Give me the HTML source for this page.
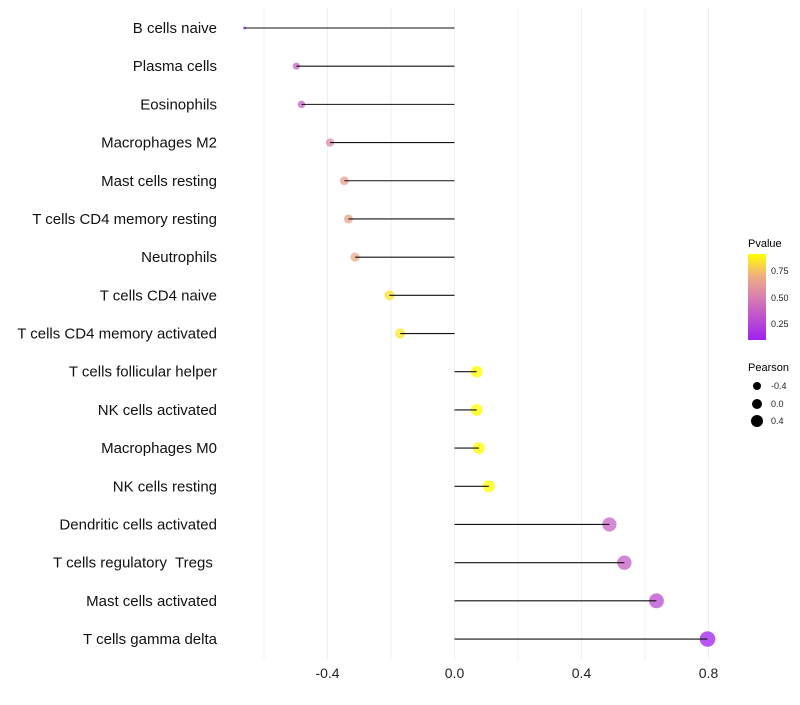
<!DOCTYPE html>
<html><head><meta charset="utf-8"><style>
body{margin:0;background:#fff;font-family:"Liberation Sans",Arial,sans-serif}
</style></head><body>
<svg id="c" width="800" height="700" xmlns="http://www.w3.org/2000/svg">
<defs><linearGradient id="g" x1="0" y1="1" x2="0" y2="0">
<stop offset="0" stop-color="#A020F0"/><stop offset="0.5" stop-color="#D87FB0"/><stop offset="0.75" stop-color="#F0B080"/><stop offset="1" stop-color="#FFFF00"/></linearGradient></defs>
</svg>
<script>
const categories=["B cells naive","Plasma cells","Eosinophils","Macrophages M2","Mast cells resting","T cells CD4 memory resting","Neutrophils","T cells CD4 naive","T cells CD4 memory activated","T cells follicular helper","NK cells activated","Macrophages M0","NK cells resting","Dendritic cells activated","T cells regulatory  Tregs ","Mast cells activated","T cells gamma delta"];
const pearson=[-0.661,-0.498,-0.482,-0.392,-0.347,-0.334,-0.313,-0.205,-0.171,0.070,0.070,0.077,0.108,0.488,0.535,0.636,0.797];
const pvalue=[0.12,0.38,0.38,0.55,0.63,0.64,0.67,0.83,0.84,0.92,0.92,0.93,0.92,0.38,0.36,0.28,0.1];
const xTicks=[-0.4,0.0,0.4,0.8];
const xMinor=[-0.6,-0.2,0.2,0.6];
const svg=document.getElementById('c');
const NS='http://www.w3.org/2000/svg';
const X=v=>454.5+v*317.5;
const Y=i=>28+i*38.19;
function el(t,a,p){const e=document.createElementNS(NS,t);for(const k in a)e.setAttribute(k,a[k]);(p||svg).appendChild(e);return e;}
function col(p){
 const stops=[[0.1,[160,32,240]],[0.5,[216,127,176]],[0.7,[240,176,128]],[0.91,[255,255,0]]];
 p=Math.max(0.1,Math.min(0.91,p));
 for(let i=0;i<stops.length-1;i++){const[a,ca]=stops[i],[b,cb]=stops[i+1];if(p<=b){const t=(p-a)/(b-a);return 'rgb('+ca.map((c,j)=>Math.round(c+(cb[j]-c)*t)).join(',')+')';}}
 return 'rgb(255,255,0)';
}
const pmin=Math.min(...pearson),pmax=Math.max(...pearson);
const R=v=>1.5+6.3*Math.sqrt((v-pmin)/(pmax-pmin));
[...xTicks,...xMinor].forEach(v=>{const l=el('line',{x1:X(v),x2:X(v),y1:8,y2:660,stroke:'#f0f0f0','stroke-width':1});

});
xTicks.forEach(v=>{const t=el('text',{x:X(v),y:678,'text-anchor':'middle','font-size':14,fill:'#222'});t.textContent=v.toFixed(1);

});
categories.forEach((c,i)=>{
 const t=el('text',{x:217,y:Y(i)+5,'text-anchor':'end','font-size':15,fill:'#111',style:'white-space:pre'});t.textContent=c;
 
 
 const d=el('circle',{cx:X(pearson[i]),cy:Y(i),r:R(pearson[i]),fill:col(pvalue[i]),'fill-opacity':0.75});
 
 
 const l=el('line',{x1:X(0),x2:X(pearson[i]),y1:Y(i),y2:Y(i),stroke:'#111','stroke-width':1.1});
 
 
});
</script>
<svg style="position:absolute;left:0;top:0" width="800" height="700">
<text x="748" y="247" font-size="11" font-family="Liberation Sans">Pvalue</text>
<rect x="748" y="254" width="18" height="86" fill="url(#g)"/>
<g font-size="9" font-family="Liberation Sans" fill="#222">
<text x="771" y="274">0.75</text><text x="771" y="301">0.50</text><text x="771" y="327">0.25</text></g>
<text x="748" y="371" font-size="11" font-family="Liberation Sans">Pearson</text>
<circle cx="757" cy="386" r="4" fill="#000"/><circle cx="757" cy="404" r="5" fill="#000"/><circle cx="757" cy="421" r="6" fill="#000"/>
<g font-size="9" font-family="Liberation Sans" fill="#222">
<text x="771" y="389">-0.4</text><text x="771" y="407">0.0</text><text x="771" y="424">0.4</text></g>
</svg>
</body></html>
